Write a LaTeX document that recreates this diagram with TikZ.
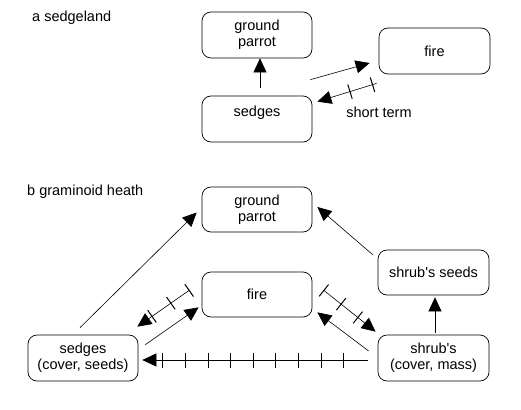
\documentclass[tikz,border=0pt]{standalone}
\usepackage{fontspec}
\setmainfont{Liberation Sans}
\usepackage{tikz}
\usetikzlibrary{arrows.meta, positioning, calc, decorations.markings}
\tikzstyle{web.box} = [rectangle, draw=black, line width=0.7pt, rounded corners=9pt, minimum width=110pt, minimum height=46pt, align=center, inner sep=0pt, font=\fontsize{14.5}{16}\selectfont]
\tikzstyle{web.title} = [anchor=west, inner sep=0pt, font=\fontsize{14.5}{16}\selectfont]
\tikzstyle{web.flow} = [-{Triangle[length=14pt,width=13pt]}, line width=0.6pt, black]
\newcommand{\webtick}{\draw[-, line width=1pt] (0,-7.5pt) -- (0,7.5pt);}

\begin{document}
\begin{tikzpicture}[x=1pt, y=-1pt]
\useasboundingbox (0,0) rectangle (521,409);
% a sedgeland
\node[web.title] (title_a) at (32,18) {a sedgeland};
\node[web.box] (parrot_a) at (257,35) {ground\\parrot};
\node[web.box] (sedges_a) at (257,119) {sedges\\\mbox{}};
\node[web.box, minimum width=111pt] (fire_a) at (434.5,51) {fire};
\node[web.title, anchor=center] (short_a) at (379,112) {short term};

\draw[web.flow] ([xshift=3pt]sedges_a.north) ++(0,-8) -- ([xshift=3pt]parrot_a.south);
\draw[web.flow] ($(sedges_a.north east)+(-2,-16)$) -- ($(fire_a.west)+(-9,12)$);
\draw[web.flow, postaction={decorate, decoration={markings,
    mark=at position 0.07 with {\webtick}, mark=at position 0.45 with {\webtick}}}]
  ($(fire_a.south west)+(-2,9)$) -- ($(sedges_a.north east)+(5,6)$);

% b graminoid heath
\node[web.title] (title_b) at (27,192) {b graminoid heath};
\node[web.box, minimum height=45pt] (parrot_b) at (257,209.5) {ground\\parrot};
\node[web.box, minimum height=45pt] (fire_b) at (257,294.5) {fire};
\node[web.box, minimum width=111pt, minimum height=45pt] (seeds_b) at (433.5,272.5) {shrub\textquotesingle s seeds};
\node[web.box] (sedges_b) at (83,358) {sedges\\(cover, seeds)};
\node[web.box, minimum width=111pt] (shrubs_b) at (433.5,358) {shrub\textquotesingle s\\(cover, mass)};

\draw[web.flow] ($(sedges_b.north)+(-3,-7)$) -- ($(parrot_b.west)+(-5,3)$);
\draw[web.flow] ($(seeds_b.north west)+(-5,5)$) -- ($(parrot_b.east)+(5,-2.5)$);
\draw[web.flow] ([xshift=1.5pt]shrubs_b.north) ++(0,-2) -- ($([xshift=1.5pt]seeds_b.south)+(0,2)$);
\draw[web.flow] ($(sedges_b.north east)+(7,10)$) -- ($(fire_b.south west)+(-3,-10)$);
\draw[web.flow, postaction={decorate, decoration={markings,
    mark=at position 0.01 with {\webtick}, mark=at position 0.36 with {\webtick},
    mark=at position 0.72 with {\webtick}}}]
  ($(fire_b.west)+(-12,-4.5)$) -- ($(sedges_b.north east)+(-1,-8)$);
\draw[web.flow, postaction={decorate, decoration={markings,
    mark=at position 0.01 with {\webtick}, mark=at position 0.34 with {\webtick},
    mark=at position 0.66 with {\webtick}}}]
  ($(fire_b.east)+(11,-4.5)$) -- ($(shrubs_b.north west)+(-2,-3)$);
\draw[web.flow] ($(shrubs_b.west)+(-9,-7)$) -- ($(fire_b.south east)+(5,-5)$);
\draw[web.flow, postaction={decorate, decoration={markings,
    mark=between positions 24pt and 210pt step 22.6pt with {\webtick}}}]
  ($(shrubs_b.west)+(-10,2)$) -- ($(sedges_b.east)+(4,2)$);
\end{tikzpicture}
\end{document}
